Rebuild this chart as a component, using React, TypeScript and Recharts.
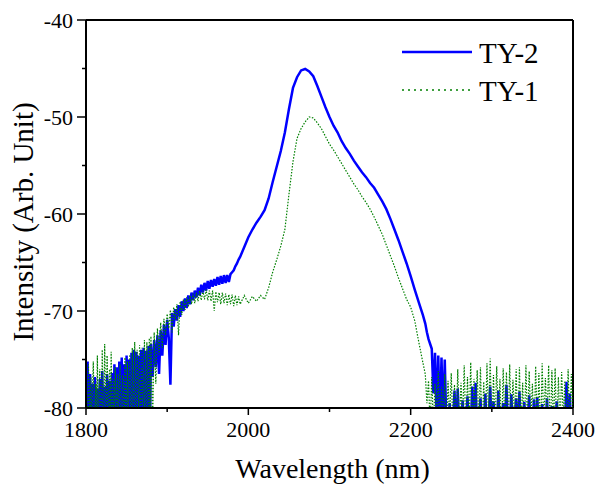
import React from 'react';
import { LineChart, Line, XAxis, YAxis, Legend, ReferenceLine } from 'recharts';

// ---- Wavelength grid (nm) ----
const wavelengthA1 = [
  1800, 1801, 1802, 1803, 1804, 1805, 1806, 1807, 1808, 1809,
  1810, 1811, 1812, 1813, 1814, 1815, 1816, 1817, 1818, 1819,
  1820, 1821, 1822, 1823, 1824, 1825, 1826, 1827, 1828, 1829,
  1830, 1831, 1832, 1833, 1834, 1835, 1836, 1837, 1838, 1839,
  1840, 1841, 1842, 1843, 1844, 1845, 1846, 1847, 1848, 1849,
  1850, 1851, 1852, 1853, 1854, 1855, 1856, 1857, 1858, 1859,
  1860, 1861, 1862, 1863, 1864, 1865, 1866, 1867, 1868, 1869,
  1870, 1871, 1872, 1873, 1874, 1875, 1876, 1877, 1878, 1879,
  1880,
];
const wavelengthA2 = [
  1882, 1884, 1886, 1888, 1890, 1892, 1894, 1896, 1898,
  1900, 1902, 1904, 1906, 1908, 1910, 1912, 1914, 1916, 1918,
  1920, 1922, 1924, 1926, 1928, 1930, 1932, 1934, 1936, 1938,
  1940, 1942, 1944, 1946, 1948, 1950, 1952, 1954, 1956, 1958,
  1960, 1962, 1964, 1966, 1968, 1970, 1972, 1974, 1976, 1978,
  1980, 1982, 1984, 1986, 1988, 1990,
];
const wavelengthB = [
  1995, 2000, 2005, 2010, 2015, 2020, 2025, 2030, 2035, 2040,
  2045, 2050, 2055, 2060, 2065, 2070, 2075, 2080, 2085, 2090,
  2095, 2100, 2105, 2110, 2115, 2120, 2125, 2130, 2135, 2140,
  2145, 2150, 2155, 2160, 2165, 2170, 2175, 2180, 2185, 2190,
  2195, 2200, 2205, 2210, 2215,
];
const wavelengthC = [
  2218, 2220, 2222, 2224, 2226, 2228, 2230, 2232, 2234, 2236,
  2238, 2240, 2242, 2244, 2246, 2248, 2250, 2252, 2254, 2256,
  2258, 2260, 2262, 2264, 2266, 2268, 2270, 2272, 2274, 2276,
  2278, 2280, 2282, 2284, 2286, 2288, 2290, 2292, 2294, 2296,
  2298, 2300, 2302, 2304, 2306, 2308, 2310, 2312, 2314, 2316,
  2318, 2320, 2322, 2324, 2326, 2328, 2330, 2332, 2334, 2336,
  2338, 2340, 2342, 2344, 2346, 2348, 2350, 2352, 2354, 2356,
  2358, 2360, 2362, 2364, 2366, 2368, 2370, 2372, 2374, 2376,
  2378, 2380, 2382, 2384, 2386, 2388, 2390, 2392, 2394, 2396,
  2398, 2400,
];

// ---- TY-2 (blue) ----
const ty2A1 = [
  -82, -78, -75.2, -81, -82, -76.5, -80, -82, -77.5, -81,
  -82, -76.8, -79, -82, -78, -80.5, -82, -77, -81, -82,
  -76.2, -80, -82, -77.8, -81, -82, -76.5, -79, -82, -77.2,
  -81, -82, -76.4, -79.5, -82, -75.5, -81.5, -82, -75.8, -80,
  -82, -75.2, -79, -81, -74.8, -80.5, -82, -75.5, -78, -82,
  -74.6, -80.8, -82, -75, -79, -81.5, -74.3, -80.2, -82, -74,
  -78.5, -81, -74.2, -82, -79, -74.6, -81, -82, -74.0, -78,
  -82, -73.8, -80.5, -81, -74.1, -79, -82, -73.6, -78.5, -81.5,
  -73.4,
];
const ty2A2 = [
  -76.8, -73, -75.8, -72.5, -76.5, -72, -74.6, -71.4, -73.5,
  -70.9, -72.8, -77.6, -70.2, -71.6, -69.8, -71, -69.4, -70.6, -69.0,
  -70.0, -68.7, -69.7, -68.4, -69.3, -68.1, -68.9, -67.9, -68.6, -67.6,
  -68.4, -67.3, -68.1, -67.1, -67.9, -66.9, -67.7, -66.8, -67.5, -66.7,
  -67.4, -66.5, -67.3, -66.4, -67.2, -66.3, -67.1, -66.3, -67.0, -66.2,
  -66.0, -65.8, -65.4, -65.1, -64.7, -64.4,
];
const ty2B = [
  -63.4, -62.4, -61.6, -60.9, -60.3, -59.6, -58.4, -56.7, -55.1, -53.5,
  -51.6, -49.2, -47.0, -45.9, -45.2, -45.05, -45.3, -45.8, -46.8, -47.9,
  -49.0, -50.0, -50.9, -51.6, -52.5, -53.2, -53.8, -54.5, -55.1, -55.7,
  -56.2, -56.8, -57.3, -58.0, -58.7, -59.5, -60.5, -61.6, -62.7, -63.9,
  -65.1, -66.4, -67.8, -69.1, -70.4,
];
const ty2C = [
  -71.3, -72.2, -72.9, -73.4, -73.9, -78.5, -74.3, -81, -74.6, -82,
  -74.8, -82, -75, -82, -83, -79.5, -83, -82, -78.2, -83,
  -78.0, -83, -82, -79.2, -83, -82, -78.8, -83, -82, -77.8,
  -83, -77.4, -83, -82, -79, -83, -82, -78.5, -83, -82,
  -77.8, -83, -79.3, -82, -83, -78.2, -83, -82, -79.5, -83,
  -77.6, -83, -82, -78.6, -83, -82, -79, -83, -78.3, -83,
  -82, -79.4, -83, -82, -78.7, -83, -82, -79.1, -83, -78.9,
  -83, -82, -79.6, -83, -82, -79.0, -83, -82, -79.8, -83,
  -82, -79.3, -83, -82, -80.5, -83, -82, -77.3, -83, -78.5,
  -83, -82,
];

// ---- TY-1 (green) ----
const ty1A1 = [
  -74.5, -81, -82, -75.5, -79, -81, -76.8, -82, -78, -75.2,
  -80, -82, -77.5, -81, -74.6, -82, -79, -76, -81, -82,
  -74, -80, -81.5, -73.4, -78, -82, -74.6, -79.5, -81, -76,
  -82, -74.2, -80, -81, -77, -82, -75.8, -79, -80.5, -76.5,
  -82, -78, -75.5, -81, -82, -76.6, -79, -82, -74.8, -80,
  -81, -75.2, -82, -78, -74.5, -79.8, -82, -73.8, -80, -81,
  -73.2, -79.5, -82, -74, -77, -81, -73.5, -80, -82, -73.8,
  -78, -81, -73, -79, -82, -73.2, -78.5, -81, -72.8, -82,
  -72.6,
];
const ty1A2 = [
  -82, -72.2, -77.5, -71.8, -74.5, -71.2, -73.8, -70.8, -72.5,
  -70.3, -71.8, -69.9, -72.2, -69.6, -70.9, -69.3, -72.5, -69.0, -70.4,
  -68.8, -69.9, -68.6, -69.6, -68.4, -69.3, -68.2, -69.2, -68.1, -69.0,
  -67.9, -68.9, -67.9, -68.8, -67.8, -68.9, -67.9, -69.0, -67.9, -70.0,
  -68.0, -69.1, -68.1, -69.3, -68.1, -69.2, -68.2, -69.4, -68.3, -69.3,
  -68.3, -69.5, -68.4, -69.4, -68.5, -69.3,
];
const ty1B = [
  -68.4, -69.2, -68.5, -69.0, -68.4, -68.8, -67.6, -66.0, -64.7, -63.3,
  -61.6, -58.0, -54.6, -52.2, -51.2, -50.5, -50.0, -50.1, -50.6, -51.2,
  -52.0, -52.8, -53.4, -54.1, -54.8, -55.5, -56.2, -56.9, -57.5, -58.2,
  -58.8, -59.5, -60.3, -61.2, -62.1, -63.2, -64.3, -65.4, -66.6, -67.7,
  -68.8, -69.6, -71.0, -73.2, -75.3,
];
const ty1C = [
  -76.5, -79.5, -77.2, -82, -76.8, -82, -77.5, -81, -76.2, -83,
  -77.8, -82, -76.5, -83, -77.2, -81, -76.4, -82, -77.6, -83,
  -76.0, -82, -77.4, -81, -75.6, -83, -76.8, -82, -75.3, -83,
  -77.0, -81, -76.1, -82, -75.8, -83, -77.3, -82, -75.4, -81,
  -74.9, -83, -76.6, -82, -75.7, -81, -77.0, -83, -75.9, -82,
  -76.3, -83, -75.5, -82, -77.1, -81, -76.0, -83, -75.8, -82,
  -77.4, -83, -75.6, -82, -76.2, -81, -77.5, -83, -75.7, -82,
  -76.4, -83, -75.4, -82, -76.9, -81, -75.6, -83, -76.1, -82,
  -75.9, -83, -76.8, -82, -76.3, -81, -77.2, -83, -76.0, -82,
  -76.5, -81,
];

const xTicks = [1800, 1900, 2000, 2100, 2200, 2300, 2400];
const xMajor = [1800, 2000, 2200, 2400];
const yTicks = [-80, -75, -70, -65, -60, -55, -50, -45, -40];
const yMajor = [-80, -70, -60, -50, -40];
const legendOrder = ['TY-2', 'TY-1'];

const wavelength = [...wavelengthA1, ...wavelengthA2, ...wavelengthB, ...wavelengthC];
const ty2 = [...ty2A1, ...ty2A2, ...ty2B, ...ty2C];
const ty1 = [...ty1A1, ...ty1A2, ...ty1B, ...ty1C];
const data = wavelength.map((w, i) => ({ w, ty2: ty2[i], ty1: ty1[i] }));

const FONT = 'Liberation Serif';

const XTick = (props: any) => {
  const { x, y, payload } = props;
  const major = xMajor.includes(payload.value);
  return (
    <g>
      <line x1={x} x2={x} y1={y} y2={y + (major ? 7 : 4)} stroke="#000" strokeWidth={1.5} />
      {major && (
        <text x={x} y={y + 29} textAnchor="middle" fontSize={22} fontFamily={FONT} fill="#000">
          {payload.value}
        </text>
      )}
    </g>
  );
};

const YTick = (props: any) => {
  const { x, y, payload } = props;
  const major = yMajor.includes(payload.value);
  return (
    <g>
      <line x1={x} x2={x - (major ? 9 : 4)} y1={y} y2={y} stroke="#000" strokeWidth={1.5} />
      {major && (
        <text x={x - 13} y={y + 7.5} textAnchor="end" fontSize={22} fontFamily={FONT} fill="#000">
          {payload.value}
        </text>
      )}
    </g>
  );
};

const XTitle = (props: any) => {
  const vb = props.viewBox || { x: 86, width: 487 };
  const cx = vb.x + vb.width / 2 + 3;
  return (
    <text x={cx} y={478} textAnchor="middle" fontSize={28} fontFamily={FONT} fill="#000">
      Wavelength (nm)
    </text>
  );
};

const YTitle = () => {
  const cx = 33;
  const cy = 222;
  return (
    <text x={cx} y={cy} transform={`rotate(-90, ${cx}, ${cy})`} textAnchor="middle" fontSize={29} fontFamily={FONT} fill="#000">
      Intensity (Arb. Unit)
    </text>
  );
};

const LegendContent = (props: any) => {
  const raw = props.payload || [];
  const items = legendOrder
    .map((name) => raw.find((it: any) => it.value === name))
    .filter(Boolean);
  return (
    <svg width={170} height={80} style={{ display: 'block', overflow: 'visible' }}>
      {items.map((it: any, i: number) => {
        const y = 20 + i * 38;
        const dotted = it.value === 'TY-1';
        return (
          <g key={it.value}>
            <line
              x1={2}
              x2={72}
              y1={y}
              y2={y}
              stroke={it.color}
              strokeWidth={dotted ? 1.5 : 2.5}
              strokeDasharray={dotted ? '2 4' : undefined}
            />
            <text x={79} y={y + 11} fontSize={29} fontFamily={FONT} fill="#000">
              {it.value}
            </text>
          </g>
        );
      })}
    </svg>
  );
};

export default function App() {
  return (
    <div style={{ position: 'absolute', left: 0, top: 0, background: '#fff', fontFamily: FONT }}>
      <LineChart width={598} height={488} data={data} margin={{ top: 20, right: 25, bottom: 0, left: 0 }}>
        <XAxis
          dataKey="w"
          type="number"
          domain={[1800, 2400]}
          ticks={xTicks}
          interval={0}
          height={80}
          tickSize={0}
          tickMargin={0}
          tickLine={false}
          tick={<XTick />}
          axisLine={{ stroke: '#000', strokeWidth: 2 }}
          allowDataOverflow
          label={<XTitle />}
        />
        <YAxis
          type="number"
          domain={[-80, -40]}
          ticks={yTicks}
          interval={0}
          width={86}
          tickSize={0}
          tickMargin={0}
          tickLine={false}
          tick={<YTick />}
          axisLine={{ stroke: '#000', strokeWidth: 2 }}
          allowDataOverflow
          label={<YTitle />}
        />
        <ReferenceLine y={-40} stroke="#000" strokeWidth={2} />
        <ReferenceLine x={2400} stroke="#000" strokeWidth={2} />
        <Legend
          layout="vertical"
          align="center"
          verticalAlign="middle"
          content={<LegendContent />}
          wrapperStyle={{ left: 400, top: 32, width: 170, height: 80 }}
        />
        <Line
          name="TY-2"
          dataKey="ty2"
          type="linear"
          stroke="#0000FF"
          strokeWidth={2.5}
          dot={false}
          activeDot={false}
          isAnimationActive={false}
        />
        <Line
          name="TY-1"
          dataKey="ty1"
          type="linear"
          stroke="#008000"
          strokeWidth={1.2}
          strokeDasharray="1.5 1.5"
          dot={false}
          activeDot={false}
          isAnimationActive={false}
        />
      </LineChart>
    </div>
  );
}
